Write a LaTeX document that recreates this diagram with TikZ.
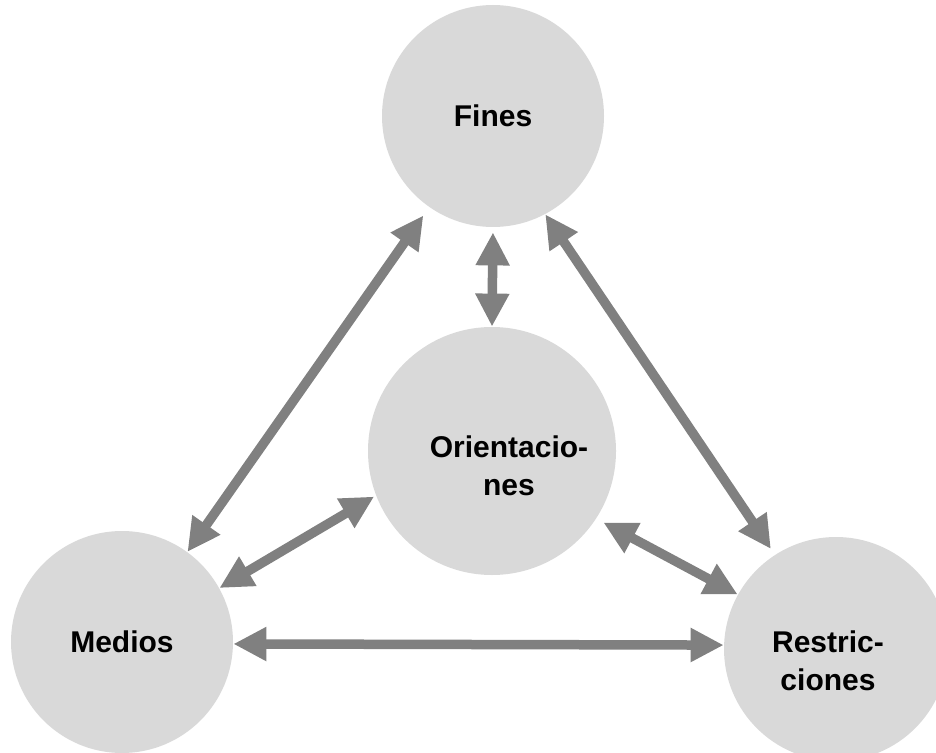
\documentclass[tikz,border=0pt]{standalone}
\usepackage{fontspec}
\setmainfont{Liberation Sans}
\usetikzlibrary{arrows.meta, positioning, calc}
\definecolor{circgray}{RGB}{217,217,217}
\definecolor{arrgray}{RGB}{128,128,128}

\begin{document}
\begin{tikzpicture}[x=0.5pt, y=-0.5pt,
  font=\bfseries\fontsize{15}{19}\selectfont,
  circ/.style={circle, fill=circgray, inner sep=0pt, align=center},
  link/.style={draw=arrgray, line width=4.75pt,
    {Triangle[length=16.5pt,width=16pt]}-{Triangle[length=16.5pt,width=16pt]}}]
\useasboundingbox (0,0) rectangle (936,753);
\clip (0,0) rectangle (936,753);

% circles
\node[circ, minimum size=111pt] (fines) at (493,116) {Fines};
\node[circ, minimum size=124pt] (orient) at (492,451) {};
\node[circ, minimum size=111pt] (medios) at (122,642) {Medios};
\node[circ, minimum size=112pt] (restr) at (836,649) {};
\node[align=center] (orienttxt) at ([xshift=8.5pt, yshift=-7.5pt]orient.center) {Orientacio-\\nes};
\node[align=center] (restrtxt) at ([xshift=-4pt, yshift=-6pt]restr.center) {Restric-\\ciones};

% links
\draw[link, shorten <=2.5pt] (fines.south) -- (orient.north);
\draw[link, shorten >=5pt] (medios.54.8) -- (fines.-125.9);
\draw[link, shorten >=3.5pt] (fines.-62.3) -- (restr.123.7);
\draw[link, shorten <=1pt] (orient.-159.1) -- (medios.29.1);
\draw[link, shorten <=4pt] (orient.-33.6) -- (restr.151.4);
\draw[link] (medios.-1.5) -- (restr.178);
\end{tikzpicture}
\end{document}
